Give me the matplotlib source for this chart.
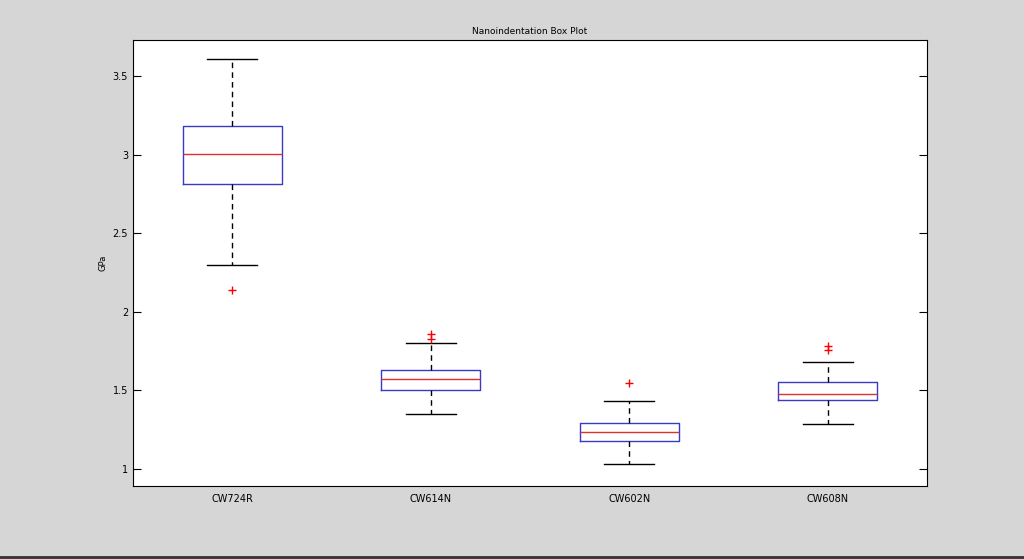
import matplotlib
matplotlib.use("Agg")
import matplotlib.pyplot as plt

labels = ["CW724R", "CW614N", "CW602N", "CW608N"]
whislo = [2.30, 1.35, 1.03, 1.285]
q1 = [2.81, 1.505, 1.18, 1.44]
med = [3.005, 1.57, 1.235, 1.48]
q3 = [3.18, 1.63, 1.29, 1.555]
whishi = [3.605, 1.80, 1.435, 1.68]
fliers = [[2.14], [1.83, 1.86], [1.55], [1.76, 1.78]]

stats = [dict(label=l, whislo=a, q1=b, med=c, q3=d, whishi=e, fliers=f)
         for l, a, b, c, d, e, f in zip(labels, whislo, q1, med, q3, whishi, fliers)]

fig = plt.figure(figsize=(10.24, 5.59), dpi=100, facecolor="#d6d6d6")
ax = fig.add_axes([133/1024, 1-486/559, (927-133)/1024, (486-40)/559])
ax.bxp(stats, widths=0.5, capwidths=0.25,
       boxprops=dict(color="#3a3ac8", lw=1),
       medianprops=dict(color="#e03030", lw=1),
       whiskerprops=dict(color="black", lw=1, linestyle=(0, (4, 3))),
       capprops=dict(color="black", lw=1),
       flierprops=dict(marker="+", markeredgecolor="red", markersize=6, linestyle="none"))
ax.set_xlim(0.5, 4.5)
ax.set_ylim(0.892, 3.729)
ax.set_yticks([1, 1.5, 2, 2.5, 3, 3.5])
ax.set_yticklabels(["1", "1.5", "2", "2.5", "3", "3.5"])
ax.tick_params(axis="y", direction="in", length=6, labelsize=7, right=True)
ax.tick_params(axis="x", length=0, labelsize=7, pad=6)
ax.set_ylabel("GPa", fontsize=6)
ax.set_title("Nanoindentation Box Plot", fontsize=6.5, pad=4)
fig.add_artist(plt.Line2D([0, 1], [1-557/559, 1-557/559], color="#333333", lw=2, transform=fig.transFigure))
fig.savefig("out.png", dpi=100, facecolor=fig.get_facecolor())
